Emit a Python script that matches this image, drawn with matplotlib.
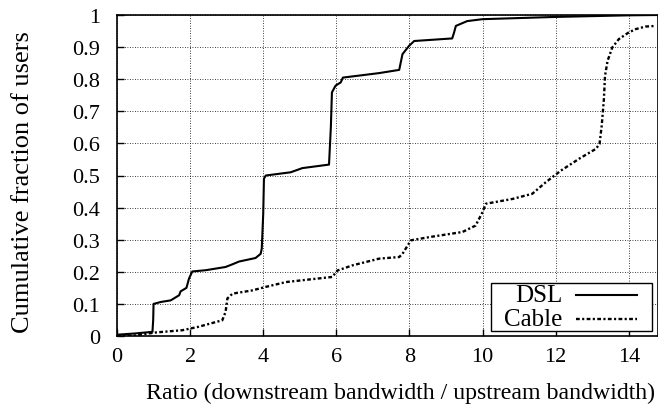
import matplotlib
matplotlib.use("Agg")
import matplotlib.pyplot as plt
from matplotlib.lines import Line2D
from matplotlib.patches import Rectangle

# DSL CDF (ratio, cumulative fraction)
dsl_x = [0.0, 0.5, 0.97, 0.99, 1.0, 1.2, 1.47, 1.7, 1.74, 1.9, 1.97, 2.06, 2.43, 2.97, 3.15, 3.34,
         3.79, 3.93, 3.96, 4.0, 4.02, 4.07, 4.75, 5.07, 5.8, 5.85, 5.88, 5.98, 6.12, 6.18, 7.17,
         7.72, 7.81, 7.99, 8.13, 9.17, 9.22, 9.27, 9.58, 10.0, 12.0, 14.0, 14.8]
dsl_y = [0.004, 0.008, 0.013, 0.05, 0.1, 0.106, 0.111, 0.127, 0.139, 0.15, 0.179, 0.201, 0.205,
         0.215, 0.223, 0.232, 0.243, 0.256, 0.272, 0.38, 0.49, 0.5, 0.51, 0.523, 0.534, 0.65,
         0.759, 0.78, 0.79, 0.805, 0.819, 0.829, 0.878, 0.904, 0.919, 0.927, 0.945, 0.966, 0.981,
         0.987, 0.994, 0.999, 1.0]

# Cable CDF
cable_x = [0.0, 0.5, 1.06, 1.79, 2.24, 2.88, 2.97, 3.02, 3.16, 3.7, 4.07, 4.62, 5.89, 6.03, 6.44,
           7.17, 7.72, 7.81, 8.04, 8.54, 9.45, 9.81, 10.0, 10.09, 10.82, 11.36, 11.73, 12.14,
           12.64, 13.1, 13.2, 13.26, 13.32, 13.35, 13.42, 13.55, 13.73, 13.99, 14.19, 14.46, 14.74]
cable_y = [0.0, 0.002, 0.011, 0.018, 0.029, 0.049, 0.075, 0.117, 0.132, 0.142, 0.153, 0.168, 0.184,
           0.204, 0.22, 0.241, 0.246, 0.256, 0.298, 0.308, 0.324, 0.344, 0.386, 0.412, 0.427,
           0.443, 0.479, 0.515, 0.552, 0.583, 0.598, 0.655, 0.738, 0.81, 0.857, 0.899, 0.925,
           0.945, 0.956, 0.964, 0.966]

x_ticks = [0, 2, 4, 6, 8, 10, 12, 14]
y_ticks = [0, 0.1, 0.2, 0.3, 0.4, 0.5, 0.6, 0.7, 0.8, 0.9, 1]
y_tick_labels = ["0", "0.1", "0.2", "0.3", "0.4", "0.5", "0.6", "0.7", "0.8", "0.9", "1"]
series_names = ["DSL", "Cable"]

plt.rcParams['font.family'] = ['Liberation Serif', 'DejaVu Serif']
FS = 16

fig = plt.figure(figsize=(6.58, 4.10), dpi=100)
ax = fig.add_axes([117 / 658, 1 - 337 / 410, (658 - 117) / 658, (337 - 16) / 410])

cable_dash = (0, (1.6, 1.0, 0.9, 1.0))
ax.plot(dsl_x, dsl_y, color='black', lw=1.5, solid_joinstyle='round')
ax.plot(cable_x, cable_y, color='black', lw=1.7, linestyle=cable_dash)

ax.set_xlim(0, 14.8)
ax.set_ylim(0, 1)
ax.set_xticks(x_ticks)
ax.set_xticklabels([str(t) for t in x_ticks])
ax.set_yticks(y_ticks)
ax.set_yticklabels(y_tick_labels)
ax.tick_params(direction='in', length=5, width=1, labelsize=FS, top=False, right=False)
ax.tick_params(axis='x', pad=8)
ax.tick_params(axis='y', pad=12)
ax.grid(True, color='black', linestyle=(0, (1, 2)), linewidth=0.6)
for s in ax.spines.values():
    s.set_linewidth(1.2)

ax.set_xlabel("Ratio (downstream bandwidth / upstream bandwidth)", fontsize=17.2)
ax.xaxis.set_label_coords((400 - 117) / 541, (337 - 393) / 321)
ax.set_ylabel("Cumulative fraction of users", fontsize=19)
ax.yaxis.set_label_coords((23 - 117) / 541, (337 - 182) / 321)
ax.xaxis.label.set_va('center')
ax.yaxis.label.set_va('center')

# gnuplot-style legend (text right-aligned, sample on the right)
ax.add_patch(Rectangle((0.691, 0.0165), 0.297, 0.148, transform=ax.transAxes,
                       facecolor='white', edgecolor='black', lw=1.0, zorder=5))
ly = [0.128, 0.053]
styles = [dict(lw=1.5, linestyle='-'), dict(lw=1.7, linestyle=cable_dash)]
for name, yy, st in zip(series_names, ly, styles):
    ax.text(0.823, yy, name, transform=ax.transAxes, ha='right', va='center',
            fontsize=FS + 2, zorder=6)
    ax.add_line(Line2D([0.848, 0.962], [yy, yy], transform=ax.transAxes, color='black',
                       zorder=6, **st))

fig.savefig("out.png", dpi=100)
